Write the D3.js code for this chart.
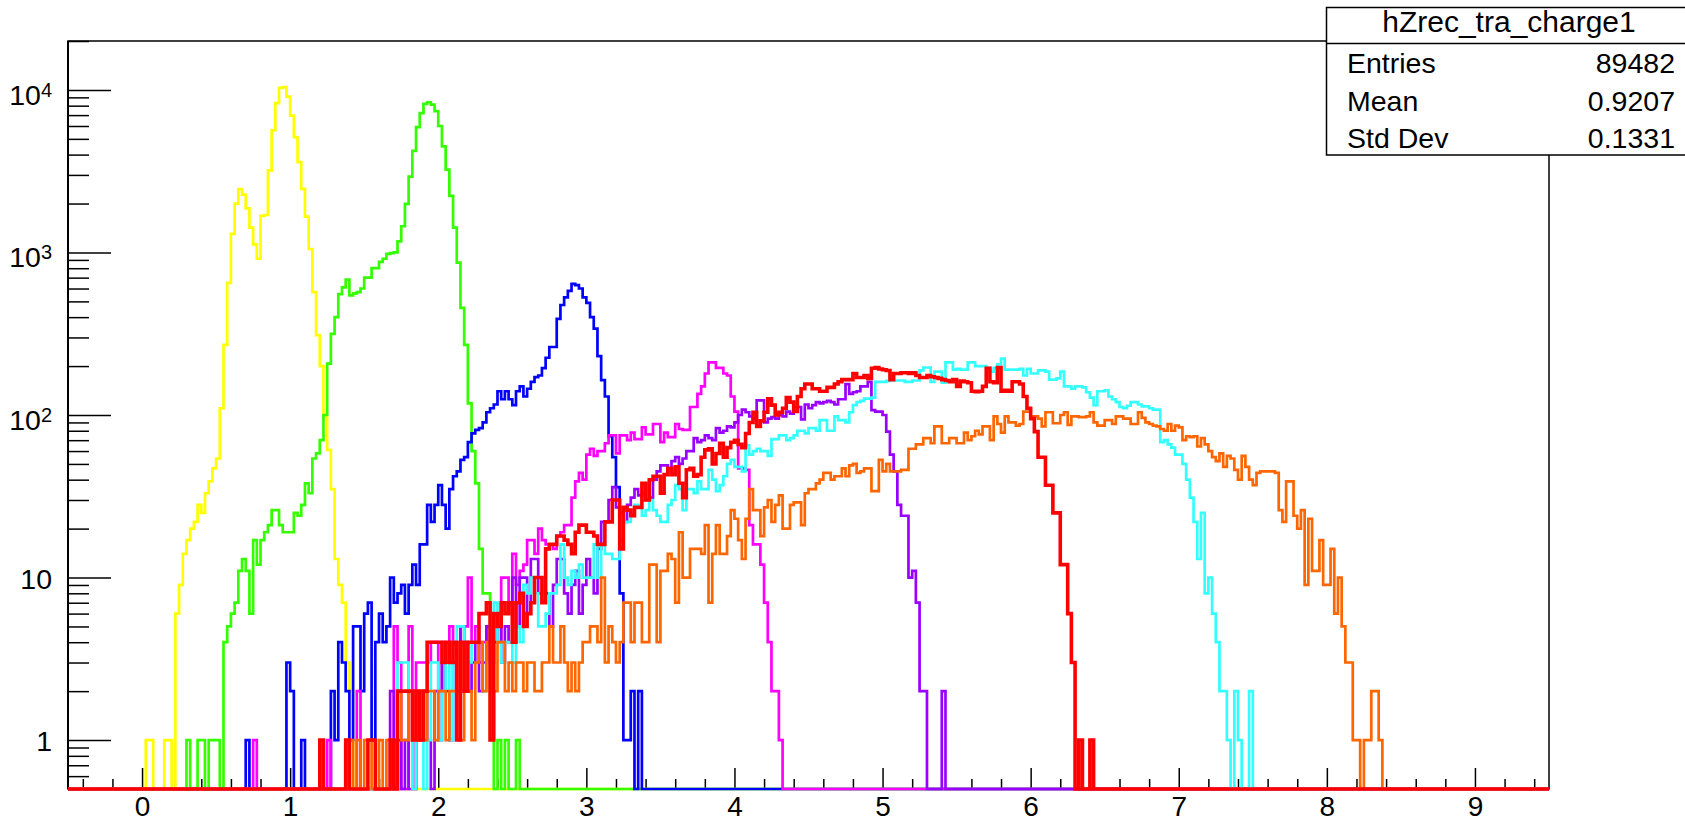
<!DOCTYPE html>
<html>
<head>
<meta charset="utf-8">
<script src="https://d3js.org/d3.v7.min.js"></script>
<style>
  body { margin: 0; background: #fff; }
  svg { display: block; font-family: "Liberation Sans", Arial, Helvetica, sans-serif; }
</style>
</head>
<body>
<script>
// ---------------- histogram binning ----------------
var xLo = -0.5, xHi = 9.5, binWidth = 0.025;

// each series: low edge of its first listed bin, then counts per 0.025 bin
var yellowStart = 0.025;
var yellowCounts = [
  1,1,0,0,0,1,1,0,6,9,
  14,17,20,22,28,25,33,39,47,54,
  110,270,650,1300,2000,2450,2270,1870,1420,1120,
  915,1680,1700,3200,5640,8300,10300,10400,9100,6950,
  5130,3600,2460,1660,1050,570,310,200,98,61,
  35,13,9,7,3,2];

var greenStart = 0.3;
var greenCounts = [
  1,0,0,1,1,0,1,1,1,0,
  4,5,6,7,11,13,11,6,17,12,
  17,19,21,26,26,21,19,19,19,25,
  24,28,38,33,54,58,70,100,207,316,
  400,555,610,680,545,560,570,600,700,700,
  800,800,875,915,980,990,1000,1170,1450,1990,
  2930,4220,5900,7200,8200,8400,8130,7400,6000,4500,
  3230,2230,1420,865,456,270,118,60,38,15,
  8,8,1,0,1,0,1,0,0,1];

var blueStart = 0.7;
var blueCounts = [
  1,0,0,0,0,0,0,0,0,0,
  0,3,2,0,0,1,0,0,0,0,
  0,0,0,2,1,4,3,2,1,5,
  5,2,6,7,1,4,6,4,5,10,
  7,8,9,6,9,12,9,16,16,28,
  22,28,37,28,20,35,42,45,53,55,
  68,77,81,83,90,104,110,116,140,125,
  140,125,115,140,150,130,145,160,171,175,
  194,225,262,262,390,475,530,580,640,630,
  600,530,490,400,340,230,164,130,74,55,
  36,8,1,1,2,0,2];

var magentaStart = 0.75;
var magentaCounts = [
  1,0,0,0,0,0,0,0,0,0,
  0,0,0,0,0,0,0,0,0,0,
  1,0,0,0,0,0,0,0,2,0,
  0,0,0,0,0,0,0,0,5,3,
  0,0,5,0,3,3,3,3,4,4,
  2,4,3,5,4,2,5,5,10,4,
  5,3,4,5,3,6,4,10,10,7,
  14,9,11,12,17,17,14,20,17,16,
  16,15,18,19,21,21,31,39,44,40,
  57,62,56,60,60,67,75,75,58,75,
  75,70,78,71,71,84,76,76,88,88,
  68,78,73,73,88,82,81,81,112,112,
  135,150,180,211,211,195,195,180,175,130,
  105,47,47,46,21,16,16,12,7,4,
  2,2,1];

var purpleStart = 1.675;
var purpleCounts = [
  2,0,1,0,1,0,0,1,1,2,
  1,0,2,1,3,2,1,3,2,5,
  4,2,3,4,2,3,5,3,4,6,
  3,5,4,10,5,10,10,6,13,13,
  8,7,8,5,9,13,13,8,6,9,
  11,6,9,13,10,8,15,22,22,30,
  36,27,25,22,28,31,35,32,33,30,
  31,40,45,49,49,47,52,55,50,54,
  60,60,72,68,70,75,72,70,83,78,
  80,85,84,90,100,108,104,98,95,123,
  123,90,95,97,95,100,98,105,102,112,
  112,94,116,110,115,120,118,120,122,120,
  116,125,125,155,135,138,140,150,150,160,
  107,105,105,100,79,57,45,28,24,24,
  10,11,7,2,2,0,0,0,0,2];

var cyanStart = 1.725;
var cyanCounts = [
  3,3,3,2,0,2,2,0,1,3,
  3,1,2,3,1,4,5,5,2,3,
  4,4,4,2,3,5,7,4,3,4,
  4,3,5,4,9,8,10,8,5,5,
  6,8,8,9,16,10,9,11,10,12,
  10,10,10,16,10,16,14,14,13,13,
  17,22,22,24,28,28,24,26,30,26,
  24,22,22,28,30,37,35,26,35,35,
  33,39,35,35,46,40,34,37,42,50,
  53,48,48,45,65,57,60,62,60,60,
  56,71,71,75,75,70,72,75,80,80,
  77,83,83,80,93,93,80,80,98,93,
  93,90,104,115,120,122,126,126,128,160,
  160,160,162,175,163,163,163,160,160,163,
  163,188,196,196,160,185,185,158,211,211,
  190,192,190,190,211,211,200,200,200,195,
  185,195,205,222,190,190,190,190,192,175,
  192,180,180,188,188,185,165,165,168,185,
  150,150,145,150,150,148,138,128,115,140,
  140,142,130,125,120,112,110,114,120,120,
  116,113,113,110,108,108,68,70,66,63,
  57,57,50,40,31,22,13,25,8,10,
  6,4,2,2,1,0,2,1,0,0,2];

var orangeStart = 1.375;
var orangeCounts = [
  1,1,0,1,0,1,1,0,0,1,
  0,1,1,1,2,1,1,2,1,2,
  1,1,2,2,1,2,2,1,2,2,
  2,1,2,2,1,3,4,2,4,2,
  2,4,4,2,3,2,3,3,2,3,
  3,2,2,3,3,5,3,3,5,3,
  2,3,2,3,4,4,5,5,4,10,
  3,5,4,3,4,7,7,4,7,7,
  4,4,12,12,4,11,11,14,13,7,
  19,10,10,15,15,15,14,21,7,14,
  21,14,14,18,26,23,17,13,23,35,
  26,26,18,27,30,22,28,32,20,20,
  28,29,29,21,33,35,35,38,40,44,
  44,40,42,42,47,42,49,50,44,45,
  47,47,34,34,53,45,50,45,45,45,
  46,46,62,62,66,66,72,72,67,85,
  85,67,67,72,72,67,67,78,70,74,
  80,76,85,85,70,98,88,78,98,90,
  90,86,88,105,105,98,98,95,85,104,
  104,89,89,100,104,87,98,98,97,97,
  98,104,90,86,86,93,93,88,98,98,
  95,95,88,88,104,96,90,88,86,85,
  82,80,88,80,86,84,70,74,73,74,
  64,72,66,60,55,52,58,48,56,54,
  46,40,56,48,40,37,44,45,45,45,
  45,44,26,22,39,39,24,20,26,9,
  23,11,11,17,9,9,15,6,10,5,
  3,3,1,1,0,1,1,2,2,1];

var redStart = 1.2;
var redCounts = [
  1,0,0,0,0,0,0,1,0,0,
  0,0,0,1,1,0,0,0,0,1,
  0,2,2,2,2,1,2,1,2,4,
  4,4,4,3,4,3,4,1,4,2,
  4,4,4,6,6,7,1,6,5,7,
  6,7,4,7,8,5,6,7,10,10,
  7,15,16,16,18,18,17,16,14,19,
  21,21,19,19,18,16,16,22,22,30,
  30,15,27,26,24,27,27,38,30,40,
  42,42,33,43,47,43,48,38,31,46,
  47,42,43,55,61,62,50,58,67,55,
  63,68,70,66,63,77,90,104,85,92,
  104,126,115,100,104,110,128,120,105,130,
  145,155,155,145,145,140,140,148,148,155,
  160,165,165,165,180,170,170,175,168,194,
  196,192,190,188,165,180,180,182,182,180,
  182,175,170,170,175,172,170,168,165,163,
  160,165,150,162,160,158,140,139,140,150,
  194,160,158,196,140,142,140,160,160,155,
  130,110,95,79,55,55,37,37,25,25,
  12,12,6,3,0,1,0,0,1];

// drawing order (red last, on top)
var seriesNames = ["yellow", "green", "blue", "magenta", "purple", "cyan", "orange", "red"];
var seriesStarts = [yellowStart, greenStart, blueStart, magentaStart, purpleStart, cyanStart, orangeStart, redStart];
var seriesCounts = [yellowCounts, greenCounts, blueCounts, magentaCounts, purpleCounts, cyanCounts, orangeCounts, redCounts];
var seriesColors = ["#ffff00", "#33ff00", "#0000ff", "#ff00ff", "#9900ff", "#33ffff", "#ff6600", "#ff0000"];

// axis ticks
var xMajor = [0, 1, 2, 3, 4, 5, 6, 7, 8, 9];
var yMajor = [1, 10, 100, 1000, 10000];

// stats box
var statsTitle = "hZrec_tra_charge1";
var statsLabels = ["Entries", "Mean", "Std Dev"];
var statsValues = ["89482", "0.9207", "0.1331"];

////////////////// layout //////////////////
var svgWidth = 1685, svgHeight = 822;
var frame = {left: 68, right: 1549, top: 41, bottom: 789};
var yMin = 0.5, yMax = 20000;

var svg = d3.select("body").append("svg")
    .attr("width", svgWidth)
    .attr("height", svgHeight);

svg.append("rect").attr("width", svgWidth).attr("height", svgHeight).attr("fill", "white");

var x = d3.scaleLinear().domain([xLo, xHi]).range([frame.left, frame.right]);
var y = d3.scaleLog().domain([yMin, yMax]).range([frame.bottom, frame.top]);

// frame
svg.append("rect")
    .attr("x", frame.left).attr("y", frame.top)
    .attr("width", frame.right - frame.left)
    .attr("height", frame.bottom - frame.top)
    .attr("fill", "none").attr("stroke", "black").attr("stroke-width", 1.5);

// y axis: major + minor ticks drawn inside
var yMinor = [];
[0.1, 1, 10, 100, 1000, 10000].forEach(function (d) {
    for (var k = 2; k <= 9; k++) {
        var v = d * k;
        if (v >= yMin && v <= yMax) yMinor.push(v);
    }
});

var yAxisG = svg.append("g").attr("transform", "translate(" + frame.left + ",0)");
yAxisG.call(d3.axisLeft(y).tickValues(yMinor).tickSize(-21).tickFormat(""))
    .call(function (g) { g.select(".domain").remove(); });

var yMajG = svg.append("g").attr("transform", "translate(" + frame.left + ",0)");
yMajG.call(d3.axisLeft(y).tickValues(yMajor).tickSize(-43).tickPadding(16).tickFormat(function (d) { return d; }))
    .call(function (g) { g.select(".domain").remove(); });

yMajG.selectAll(".tick text")
    .attr("font-size", "28.5px")
    .attr("fill", "black")
    .each(function (d) {
        var t = d3.select(this);
        var p = Math.round(Math.log10(d));
        t.text(null);
        if (p < 2) {
            t.attr("dy", "0.38em").text(d);
        } else {
            t.attr("dy", "0.5em");
            t.append("tspan").text("10");
            t.append("tspan").attr("dy", "-8").attr("font-size", "20px").text(p);
        }
    });

// x axis
var xMinor = [];
for (var k = -2; k <= 47; k++) {
    var v = +(k * 0.2).toFixed(1);
    if (Math.abs(v - Math.round(v)) > 1e-6) xMinor.push(v);
}

svg.append("g").attr("transform", "translate(0," + frame.bottom + ")")
    .call(d3.axisBottom(x).tickValues(xMinor).tickSize(-10).tickFormat(""))
    .call(function (g) { g.select(".domain").remove(); });

var xMajG = svg.append("g").attr("transform", "translate(0," + frame.bottom + ")");
xMajG.call(d3.axisBottom(x).tickValues(xMajor).tickSize(-21).tickPadding(7).tickFormat(d3.format("d")))
    .call(function (g) { g.select(".domain").remove(); });
xMajG.selectAll(".tick text").attr("font-size", "28px").attr("fill", "black");

svg.selectAll(".tick line").attr("stroke", "black").attr("stroke-width", 1.5);

// left axis line a bit heavier
svg.append("line")
    .attr("x1", frame.left).attr("x2", frame.left)
    .attr("y1", frame.top).attr("y2", frame.bottom)
    .attr("stroke", "black").attr("stroke-width", 2);

////////////////// histograms //////////////////
svg.append("clipPath").attr("id", "plotClip")
    .append("rect")
    .attr("x", frame.left).attr("y", frame.top)
    .attr("width", frame.right - frame.left)
    .attr("height", frame.bottom - frame.top + 3);

var nBins = Math.round((xHi - xLo) / binWidth);

function toPoints(start, counts) {
    var full = new Array(nBins).fill(0);
    var i0 = Math.round((start - xLo) / binWidth);
    counts.forEach(function (c, k) { full[i0 + k] = c; });
    var pts = full.map(function (c, i) { return [xLo + i * binWidth, c]; });
    pts.push([xHi, full[nBins - 1]]);
    return pts;
}

var stepLine = d3.line()
    .x(function (d) { return x(d[0]); })
    .y(function (d) { return d[1] > 0 ? y(d[1]) : y(yMin); })
    .curve(d3.curveStepAfter);

var histG = svg.append("g").attr("clip-path", "url(#plotClip)");
seriesNames.forEach(function (name, i) {
    histG.append("path")
        .attr("class", "hist " + name)
        .attr("d", stepLine(toPoints(seriesStarts[i], seriesCounts[i])))
        .attr("fill", "none")
        .attr("stroke", seriesColors[i])
        .attr("stroke-width", name === "red" ? 3.6 : 2.7)
        .attr("stroke-linejoin", "miter");
});

////////////////// stats box //////////////////
var box = {left: 1326.5, top: 7.5, right: 1690, bottom: 155, divider: 43.5};
var statsG = svg.append("g").attr("class", "stats");
statsG.append("rect")
    .attr("x", box.left).attr("y", box.top)
    .attr("width", box.right - box.left).attr("height", box.bottom - box.top)
    .attr("fill", "white").attr("stroke", "black").attr("stroke-width", 1.5);
statsG.append("line")
    .attr("x1", box.left).attr("x2", box.right)
    .attr("y1", box.divider).attr("y2", box.divider)
    .attr("stroke", "black").attr("stroke-width", 1.5);
statsG.append("text")
    .attr("x", 1509).attr("y", 32)
    .attr("text-anchor", "middle")
    .attr("font-size", "30px")
    .text(statsTitle);

var rowY = [73, 110.5, 148];
statsLabels.forEach(function (lab, i) {
    statsG.append("text")
        .attr("x", 1347).attr("y", rowY[i])
        .attr("font-size", "28.5px")
        .text(lab);
    statsG.append("text")
        .attr("x", 1675).attr("y", rowY[i])
        .attr("text-anchor", "end")
        .attr("font-size", "28.5px")
        .text(statsValues[i]);
});
</script>
</body>
</html>
